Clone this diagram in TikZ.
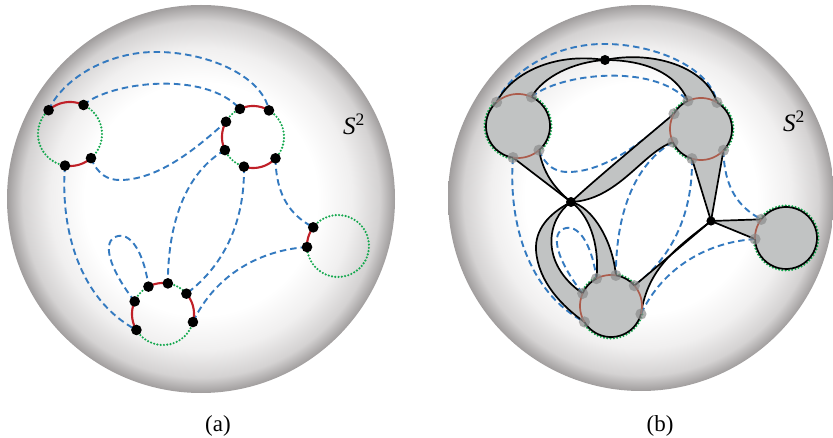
\documentclass[tikz,border=0pt]{standalone}
\usepackage{fontspec}
\setmainfont{Liberation Serif}
\definecolor{bluec}{RGB}{52,122,192}
\definecolor{greenc}{RGB}{20,168,78}
\definecolor{redc}{RGB}{192,32,40}
\definecolor{brownc}{RGB}{172,92,76}
\definecolor{ribc}{RGB}{193,195,195}
\definecolor{sphA}{RGB}{240,239,239}
\definecolor{sphB}{RGB}{212,210,210}
\definecolor{sphC}{RGB}{160,157,157}
\pgfdeclareradialshading{sphere}{\pgfpointorigin}{color(0bp)=(white); color(15bp)=(white); color(19.5bp)=(sphA); color(23bp)=(sphB); color(25bp)=(sphC); color(36bp)=(sphC)}
\newcommand{\carc}[5]{plot[domain=#4:#5,samples=40,variable=\x]({#1+(#3)*cos(\x)},{#2+(#3)*sin(\x)})}
\newcommand{\defpoints}{%
\coordinate (a1) at ([shift={(70,134)}]228:32);
\coordinate (a2) at ([shift={(70,134)}]295:32);
\coordinate (a3) at ([shift={(70,134)}]49:32);
\coordinate (a4) at ([shift={(70,134)}]99:32);
\coordinate (b1) at ([shift={(253,137)}]245:31);
\coordinate (b2) at ([shift={(253,137)}]301:31);
\coordinate (b3) at ([shift={(253,137)}]209.5:31);
\coordinate (b4) at ([shift={(253,137)}]155:31);
\coordinate (b5) at ([shift={(253,137)}]107:31);
\coordinate (b6) at ([shift={(253,137)}]43.5:31);
\coordinate (c1) at ([shift={(338,246)}]217:31);
\coordinate (c2) at ([shift={(338,246)}]178:31);
\coordinate (d1) at ([shift={(163,314)}]204:31);
\coordinate (d2) at ([shift={(163,314)}]242:31);
\coordinate (d3) at ([shift={(163,314)}]279:31);
\coordinate (d4) at ([shift={(163,314)}]319:31);
\coordinate (d5) at ([shift={(163,314)}]15:31);
\coordinate (d6) at ([shift={(163,314)}]149:31);
}
\newcommand{\drawdashes}{%
\draw[dsh] (a1) .. controls (62,80) and (105,53) .. (153,52) .. controls (205,51) and (262,75) .. (b2);
\draw[dsh] (a2) .. controls (110,82) and (205,70) .. (b1);
\draw[dsh] (a3) .. controls (98,175) and (108,180) .. (120,180) .. controls (160,180) and (200,145) .. (b3);
\draw[dsh] (a4) .. controls (60,230) and (80,300) .. (d6);
\draw[dsh] (b4) .. controls (190,170) and (168,215) .. (d3);
\draw[dsh] (b5) .. controls (245,220) and (225,265) .. (d4);
\draw[dsh] (b6) .. controls (276,195) and (290,215) .. (c1);
\draw[dsh] (c2) .. controls (260,250) and (215,275) .. (d5);
\draw[dsh] (d1) .. controls (110,270) and (100,240) .. (118,236) .. controls (133,233) and (145,258) .. (d2);
}
\newcommand{\freearcs}[2]{%
\draw[#1] \carc{70}{134}{32+#2}{295}{409};
\draw[#1] \carc{70}{134}{32+#2}{99}{228};
\draw[#1] \carc{253}{137}{31+#2}{301}{403.5};
\draw[#1] \carc{253}{137}{31+#2}{107}{155};
\draw[#1] \carc{253}{137}{31+#2}{209.5}{245};
\draw[#1] \carc{338}{246}{31+#2}{217}{538};
\draw[#1] \carc{163}{314}{31+#2}{204}{242};
\draw[#1] \carc{163}{314}{31+#2}{279}{319};
\draw[#1] \carc{163}{314}{31+#2}{15}{149};
}
\newcommand{\drawreds}{%
\draw[redarc] \carc{70}{134}{32}{228}{295};
\draw[redarc] \carc{70}{134}{32}{49}{99};
\draw[redarc] \carc{253}{137}{31}{245}{301};
\draw[redarc] \carc{253}{137}{31}{155}{209.5};
\draw[redarc] \carc{253}{137}{31}{43.5}{107};
\draw[redarc] \carc{338}{246}{31}{178}{217};
\draw[redarc] \carc{163}{314}{31}{149}{204};
\draw[redarc] \carc{163}{314}{31}{242}{279};
\draw[redarc] \carc{163}{314}{31}{319}{375};
}
\newcommand{\drawdots}{%
\foreach \p in {a1,a2,a3,a4,b1,b2,b3,b4,b5,b6,c1,c2,d1,d2,d3,d4,d5,d6}
  \fill[ptdot] (\p) circle[radius=\dotr];
}
\begin{document}
\begin{tikzpicture}[x=1pt,y=-1pt,
  dsh/.style={draw=bluec,line width=1.9pt,dash pattern=on 6.5pt off 4pt},
  grn/.style={draw=greenc,line width=2.4pt,dash pattern=on 0pt off 3.3pt,line cap=round},
  redarc/.style={draw=redc,line width=2.1pt},
  ptdot/.style={fill=black},
  edge/.style={draw=black,line width=1.7pt,line join=round},
  ribbon/.style={fill=ribc},
  lbl/.style={inner sep=0pt,font=\fontsize{25}{25}\selectfont},
  capt/.style={inner sep=0pt,font=\fontsize{23}{23}\selectfont}]
\useasboundingbox (0,0) rectangle (833,438);
\shade[shading=sphere] (201,199) circle[radius=194pt];
\shade[shading=sphere] (641,198) circle[radius=193pt];
\node[lbl] (s2a) at (354,124) {\textit{S}\textsuperscript{2}};
\node[lbl] (s2b) at (794,121) {\textit{S}\textsuperscript{2}};
\node[capt] (capa) at (218,426) {(a)};
\node[capt] (capb) at (660,426) {(b)};
% ---------- (a)
\def\dotr{5.3pt}
\begin{scope}
\defpoints
\drawdashes
\freearcs{grn}{0}
\drawreds
\drawdots
\end{scope}
% ---------- (b)
\def\dotr{5.6pt}
\begin{scope}[shift={(448,-8)},
  redarc/.style={draw=brownc,line width=1.7pt},
  ptdot/.style={fill=black!45,opacity=0.7}]
\defpoints
\coordinate (V1) at (157,68);
\coordinate (V2) at (123,210);
\coordinate (V3) at (263,229);
\drawdashes
\freearcs{grn}{1.4}
% ribbon surface
\fill[ribbon] (70,134) circle[radius=32pt];
\fill[ribbon] (253,137) circle[radius=31pt];
\fill[ribbon] (338,246) circle[radius=31pt];
\fill[ribbon] (163,314) circle[radius=31pt];
\fill[ribbon] (a1) .. controls (63,82) and (105,60) .. (V1) .. controls (125,70) and (95,85) .. (a2) -- cycle;
\fill[ribbon] (b2) .. controls (258,75) and (205,58) .. (V1) .. controls (195,68) and (228,80) .. (b1) -- cycle;
\fill[ribbon] (a4) -- (V2) .. controls (105,195) and (95,180) .. (a3) -- cycle;
\fill[ribbon] (b3) .. controls (195,148) and (150,185) .. (V2) .. controls (170,208) and (195,160) .. (b4) -- cycle;
\fill[ribbon] (V2) .. controls (100,222) and (87,238) .. (88,258) .. controls (90,290) and (115,315) .. (d6) -- (d1) .. controls (92,272) and (98,228) .. (V2) -- cycle;
\fill[ribbon] (V2) .. controls (140,222) and (152,250) .. (d2) -- (d3) .. controls (165,250) and (145,215) .. (V2) -- cycle;
\fill[ribbon] (b5) -- (V3) -- (b6) -- cycle;
\fill[ribbon] (c1) -- (V3) -- (c2) -- cycle;
\fill[ribbon] (d4) -- (V3) .. controls (230,255) and (200,275) .. (d5) -- cycle;
% outlines
\draw[edge] (a1) .. controls (63,82) and (105,60) .. (V1);
\draw[edge] (a2) .. controls (95,85) and (125,70) .. (V1);
\draw[edge] (b2) .. controls (258,75) and (205,58) .. (V1);
\draw[edge] (b1) .. controls (228,80) and (195,68) .. (V1);
\draw[edge] (a4) -- (V2);
\draw[edge] (a3) .. controls (95,180) and (105,195) .. (V2);
\draw[edge] (b3) .. controls (195,148) and (150,185) .. (V2);
\draw[edge] (b4) .. controls (195,160) and (170,208) .. (V2);
\draw[edge] (V2) .. controls (100,222) and (87,238) .. (88,258) .. controls (90,290) and (115,315) .. (d6);
\draw[edge] (V2) .. controls (98,228) and (92,272) .. (d1);
\draw[edge] (V2) .. controls (140,222) and (152,250) .. (d2);
\draw[edge] (V2) .. controls (145,215) and (165,250) .. (d3);
\draw[edge] (b5) -- (V3);
\draw[edge] (b6) -- (V3);
\draw[edge] (c1) -- (V3);
\draw[edge] (c2) -- (V3);
\draw[edge] (d4) -- (V3);
\draw[edge] (V3) .. controls (230,255) and (200,275) .. (d5);
\freearcs{edge}{0}
\drawreds
\drawdots
\fill (V1) circle[radius=5pt];
\fill (V2) circle[radius=5pt];
\fill (V3) circle[radius=4.6pt];
\end{scope}
\end{tikzpicture}
\end{document}
